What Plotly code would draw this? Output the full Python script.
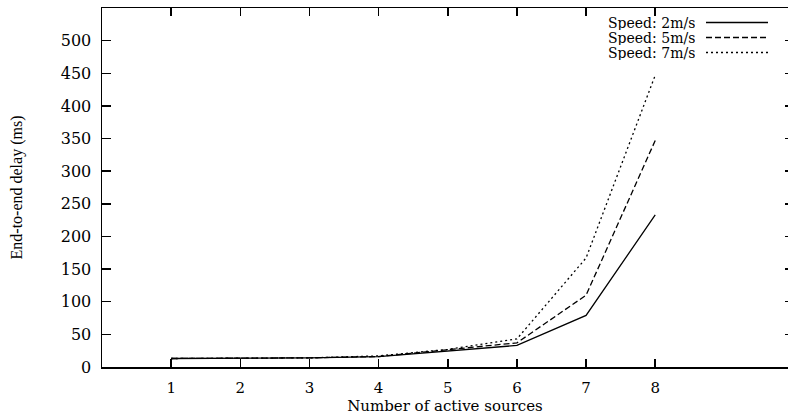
import plotly.graph_objects as go

sources = [1, 2, 3, 4, 5, 6, 7, 8]
delay_2ms = [13, 13, 14, 16, 25, 33, 79, 233]
delay_5ms = [13, 13, 14, 16, 26, 37, 110, 347]
delay_7ms = [13, 13, 14, 17, 27, 43, 167, 447]
series_names = ["Speed: 2m/s", "Speed: 5m/s", "Speed: 7m/s"]
series_dash = ["solid", "6px,3px", "2px,3px"]
y_ticks = [0, 50, 100, 150, 200, 250, 300, 350, 400, 450, 500]
x_ticks = [1, 2, 3, 4, 5, 6, 7, 8]

FONT = "DejaVu Serif"

fig = go.Figure()
for name, ys, dash in zip(series_names, [delay_2ms, delay_5ms, delay_7ms], series_dash):
    fig.add_trace(go.Scatter(x=sources, y=ys, mode="lines", name=name,
                             line=dict(color="black", width=1.3, dash=dash),
                             showlegend=False, hoverinfo="skip"))
# empty trace so the right-hand (cropped) tick axis is drawn
fig.add_trace(go.Scatter(x=[], y=[], yaxis="y2", showlegend=False, hoverinfo="skip"))

# custom legend: text on the left, line sample on the right
for i, (name, dash) in enumerate(zip(series_names, series_dash)):
    ypos = 1 - (22.5 + 15 * i - 8) / 359
    fig.add_annotation(x=(696 - 102) / 686, y=ypos, xref="paper", yref="paper",
                       text=name, showarrow=False, xanchor="right", yanchor="middle",
                       font=dict(family=FONT, size=14, color="black"),
                       borderpad=0, height=15)
    fig.add_shape(type="line", xref="paper", yref="paper",
                  x0=(706 - 102) / 686, x1=(768 - 102) / 686, y0=ypos, y1=ypos,
                  line=dict(color="black", width=1.3, dash=dash))

fig.update_layout(
    width=788, height=415,
    margin=dict(l=102, r=0, t=8, b=48),
    paper_bgcolor="white", plot_bgcolor="white",
    font=dict(family=FONT, size=15, color="black"),
    hovermode=False,
    xaxis=dict(range=[0, 9.92], tickvals=x_ticks, ticks="inside", ticklen=8,
               tickwidth=1.5, tickcolor="black", showline=True, linecolor="black",
               linewidth=1.5, mirror="ticks", showgrid=False, zeroline=False,
               automargin=False, showspikes=False,
               tickfont=dict(family=FONT, size=15), ticklabelstandoff=6,
               title=dict(text="Number of active sources", standoff=8,
                          font=dict(family=FONT, size=15))),
    yaxis=dict(range=[0, 550], tickvals=y_ticks, ticks="inside", ticklen=9,
               tickwidth=1.5, tickcolor="black", showline=True, linecolor="black",
               linewidth=1.5, mirror=False, showgrid=False, zeroline=False,
               automargin=False, showspikes=False,
               tickfont=dict(family=FONT, size=16), ticklabelstandoff=6,
               title=dict(text="End-to-end delay (ms)", standoff=34,
                          font=dict(family="Liberation Serif", size=16))),
    yaxis2=dict(range=[0, 550], tickvals=y_ticks, overlaying="y", side="right",
                ticks="inside", ticklen=3, tickwidth=1.5, tickcolor="black",
                showticklabels=False, showline=False, showgrid=False,
                zeroline=False, automargin=False),
)

fig.write_html("out.html",
               config={"displayModeBar": False, "staticPlot": True},
               post_script=("document.body.style.margin='0';"
                            "document.body.style.overflow='hidden';"
                            "document.documentElement.style.overflow='hidden';"))
